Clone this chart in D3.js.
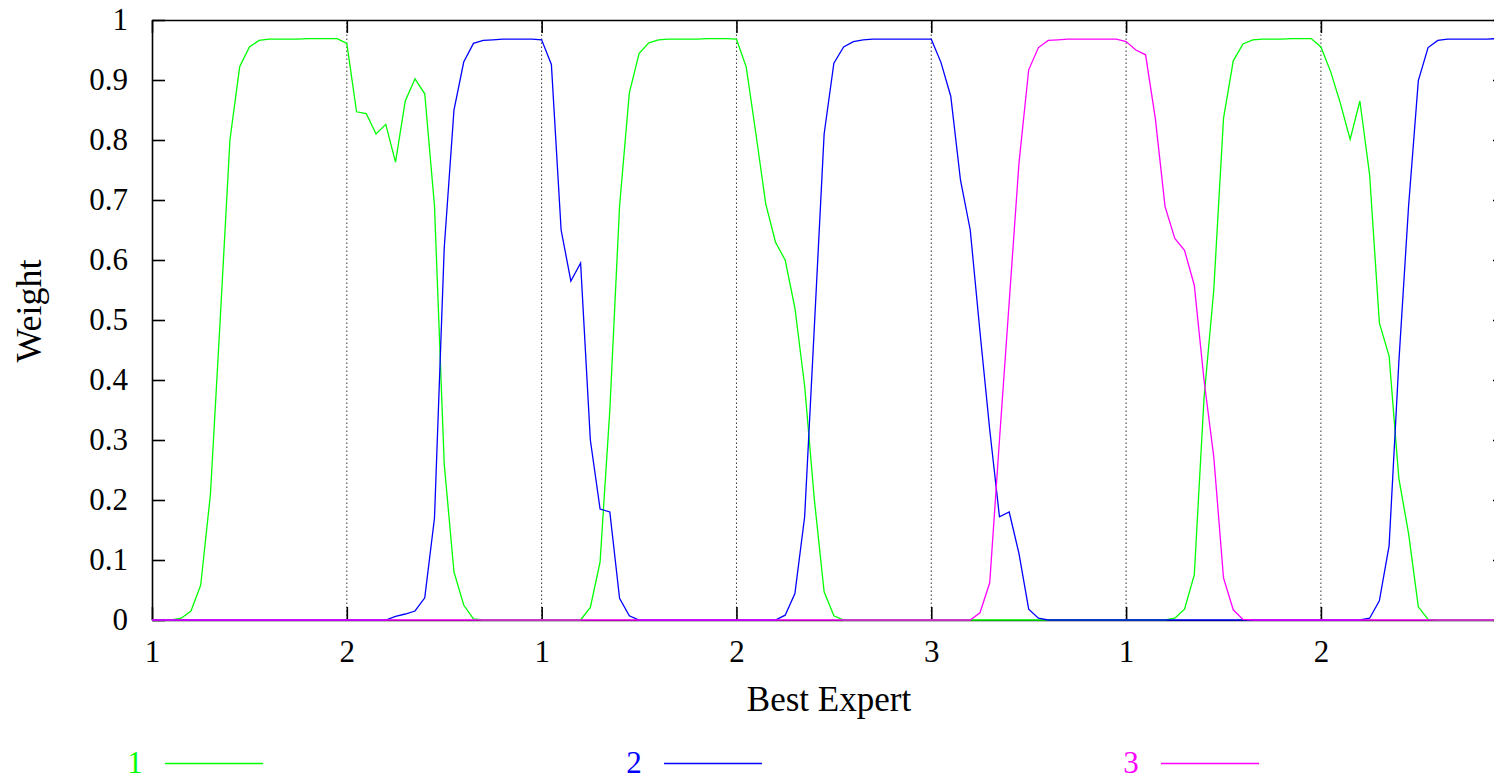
<!DOCTYPE html>
<html>
<head>
<meta charset="utf-8">
<script src="https://cdn.jsdelivr.net/npm/d3@7.9.0/dist/d3.min.js"></script>
<style>
  html, body { margin: 0; padding: 0; background: #fff; }
  svg { display: block; }
  text { font-family: 'Liberation Serif', 'Times New Roman', serif; }
</style>
</head>
<body>
<svg id="chart" width="1494" height="779"></svg>
<script>
// Best expert in each block of 20 steps (x tick labels)
const bestExpert = ['1', '2', '1', '2', '3', '1', '2'];
const blockLength = 20;

// Weight of each expert at every step (140 steps)
const weights1 = [
  0, 0, 0, 0.003, 0.015, 0.058, 0.21, 0.5, 0.8, 0.922, 0.955, 0.966, 0.968, 0.968, 0.968, 0.968, 0.969, 0.969, 0.969, 0.969,
  0.961, 0.847, 0.844, 0.81, 0.826, 0.763, 0.865, 0.902, 0.877, 0.69, 0.26, 0.08, 0.025, 0.002, 0, 0, 0, 0, 0, 0,
  0, 0, 0, 0, 0, 0.021, 0.097, 0.35, 0.69, 0.878, 0.944, 0.962, 0.967, 0.968, 0.968, 0.968, 0.968, 0.969, 0.969, 0.969,
  0.968, 0.922, 0.81, 0.694, 0.63, 0.6, 0.52, 0.39, 0.2, 0.047, 0.007, 0, 0, 0, 0, 0, 0, 0, 0, 0,
  0, 0, 0, 0, 0, 0, 0, 0, 0, 0, 0, 0, 0, 0, 0, 0, 0, 0, 0, 0,
  0, 0, 0, 0, 0, 0.003, 0.018, 0.075, 0.37, 0.55, 0.836, 0.932, 0.96, 0.967, 0.968, 0.968, 0.968, 0.969, 0.969, 0.969,
  0.955, 0.914, 0.861, 0.801, 0.865, 0.742, 0.495, 0.44, 0.236, 0.144, 0.022, 0.001, 0, 0, 0, 0, 0, 0, 0, 0
];

const weights2 = [
  0, 0, 0, 0, 0, 0, 0, 0, 0, 0, 0, 0, 0, 0, 0, 0, 0, 0, 0, 0,
  0, 0, 0, 0, 0, 0.006, 0.01, 0.015, 0.037, 0.17, 0.62, 0.85, 0.93, 0.961, 0.966, 0.967, 0.968, 0.968, 0.968, 0.968,
  0.967, 0.926, 0.65, 0.565, 0.595, 0.3, 0.185, 0.18, 0.036, 0.007, 0, 0, 0, 0, 0, 0, 0, 0, 0, 0,
  0, 0, 0, 0, 0, 0.008, 0.044, 0.172, 0.49, 0.81, 0.928, 0.955, 0.964, 0.967, 0.968, 0.968, 0.968, 0.968, 0.968, 0.968,
  0.968, 0.929, 0.873, 0.733, 0.65, 0.48, 0.317, 0.172, 0.18, 0.111, 0.018, 0.003, 0, 0, 0, 0, 0, 0, 0, 0,
  0, 0, 0, 0, 0, 0, 0, 0, 0, 0, 0, 0, 0, 0, 0, 0, 0, 0, 0, 0,
  0, 0, 0, 0, 0, 0.003, 0.032, 0.124, 0.43, 0.69, 0.899, 0.954, 0.966, 0.968, 0.968, 0.968, 0.968, 0.968, 0.969, 0.969
];

const weights3 = [
  0, 0, 0, 0, 0, 0, 0, 0, 0, 0, 0, 0, 0, 0, 0, 0, 0, 0, 0, 0,
  0, 0, 0, 0, 0, 0, 0, 0, 0, 0, 0, 0, 0, 0, 0, 0, 0, 0, 0, 0,
  0, 0, 0, 0, 0, 0, 0, 0, 0, 0, 0, 0, 0, 0, 0, 0, 0, 0, 0, 0,
  0, 0, 0, 0, 0, 0, 0, 0, 0, 0, 0, 0, 0, 0, 0, 0, 0, 0, 0, 0,
  0, 0, 0, 0, 0, 0.012, 0.062, 0.3, 0.53, 0.761, 0.917, 0.954, 0.966, 0.967, 0.968, 0.968, 0.968, 0.968, 0.968, 0.968,
  0.964, 0.95, 0.942, 0.836, 0.689, 0.636, 0.616, 0.558, 0.4, 0.272, 0.07, 0.017, 0.001, 0, 0, 0, 0, 0, 0, 0,
  0, 0, 0, 0, 0, 0, 0, 0, 0, 0, 0, 0, 0, 0, 0, 0, 0, 0, 0, 0
];

const seriesNames = ['1', '2', '3'];
const seriesColors = ['#00ff00', '#0000ff', '#ff00ff'];
const seriesValues = [weights1, weights2, weights3];
const colorOf = name => seriesColors[seriesNames.indexOf(name)];

// Plot frame
const plotLeft = 152, plotRight = 1506, plotTop = 20, plotBottom = 620;
const tickLen = 13;
const serif = "'Liberation Serif', 'Times New Roman', serif";

const svg = d3.select('#chart');

const x = d3.scaleLinear().domain([0, weights1.length - 1]).range([plotLeft, plotRight]);
const y = d3.scaleLinear().domain([0, 1]).range([plotBottom, plotTop]);

const xTickValues = bestExpert.map((d, i) => i * blockLength);
const yTickValues = d3.range(0, 11).map(d => d / 10);

svg.append('rect')
  .attr('width', 1494)
  .attr('height', 779)
  .attr('fill', '#fff');

// Dotted vertical grid at block boundaries
svg.append('g')
  .selectAll('line')
  .data(xTickValues.slice(1))
  .join('line')
  .attr('x1', d => x(d))
  .attr('x2', d => x(d))
  .attr('y1', plotBottom)
  .attr('y2', plotTop)
  .attr('stroke', '#333')
  .attr('stroke-width', 1)
  .attr('stroke-dasharray', '1.5,2.5');

// Axes: bottom/left with labels, top/right as mirrored ticks
const xBottom = d3.axisBottom(x)
  .tickValues(xTickValues)
  .tickFormat((d, i) => bestExpert[i])
  .tickSizeInner(-tickLen)
  .tickSizeOuter(0)
  .tickPadding(20);

const xTop = d3.axisTop(x)
  .tickValues(xTickValues)
  .tickFormat('')
  .tickSizeInner(-tickLen)
  .tickSizeOuter(0);

const yLeft = d3.axisLeft(y)
  .tickValues(yTickValues)
  .tickFormat(d3.format('~g'))
  .tickSizeInner(-tickLen)
  .tickSizeOuter(0)
  .tickPadding(24);

const yRight = d3.axisRight(y)
  .tickValues(yTickValues)
  .tickFormat('')
  .tickSizeInner(-tickLen)
  .tickSizeOuter(0);

function styleAxis(g) {
  g.attr('font-family', serif);
  g.selectAll('.domain').attr('stroke', '#000').attr('stroke-width', 1.6);
  g.selectAll('.tick line').attr('stroke', '#000').attr('stroke-width', 1.6);
  g.selectAll('.tick text')
    .attr('font-size', 31)
    .style('fill', '#000');
}

svg.append('g').attr('transform', `translate(0,${plotBottom})`).call(xBottom).call(styleAxis);
svg.append('g').attr('transform', `translate(0,${plotTop})`).call(xTop).call(styleAxis);
svg.append('g').attr('transform', `translate(${plotLeft},0)`).call(yLeft).call(styleAxis);
svg.append('g').attr('transform', `translate(${plotRight},0)`).call(yRight).call(styleAxis);

// Weight lines
const weightLine = d3.line()
  .x((d, i) => x(i))
  .y(d => y(d));

svg.append('g')
  .selectAll('path')
  .data(seriesValues)
  .join('path')
  .attr('d', d => weightLine(d))
  .attr('fill', 'none')
  .attr('stroke', (d, i) => seriesColors[i])
  .attr('stroke-width', 1.3)
  .attr('stroke-linejoin', 'miter');

// Axis titles
svg.append('text')
  .attr('x', (plotLeft + plotRight) / 2)
  .attr('y', 711)
  .attr('text-anchor', 'middle')
  .attr('font-size', 35)
  .style('fill', '#000')
  .text('Best Expert');

svg.append('text')
  .attr('transform', 'translate(41,311) rotate(-90)')
  .attr('text-anchor', 'middle')
  .attr('font-size', 36)
  .style('fill', '#000')
  .text('Weight');

// Legend row
const legendX = [135, 634, 1131];
const legend = svg.append('g')
  .selectAll('g')
  .data(seriesNames)
  .join('g')
  .attr('transform', (d, i) => `translate(${legendX[i]},763)`);

legend.append('text')
  .attr('text-anchor', 'middle')
  .attr('y', 10)
  .attr('font-size', 31)
  .style('fill', d => colorOf(d))
  .text(d => d);

legend.append('path')
  .attr('d', 'M30,0.5H128')
  .attr('fill', 'none')
  .style('stroke', d => colorOf(d))
  .style('stroke-width', 1.5);
</script>
</body>
</html>
